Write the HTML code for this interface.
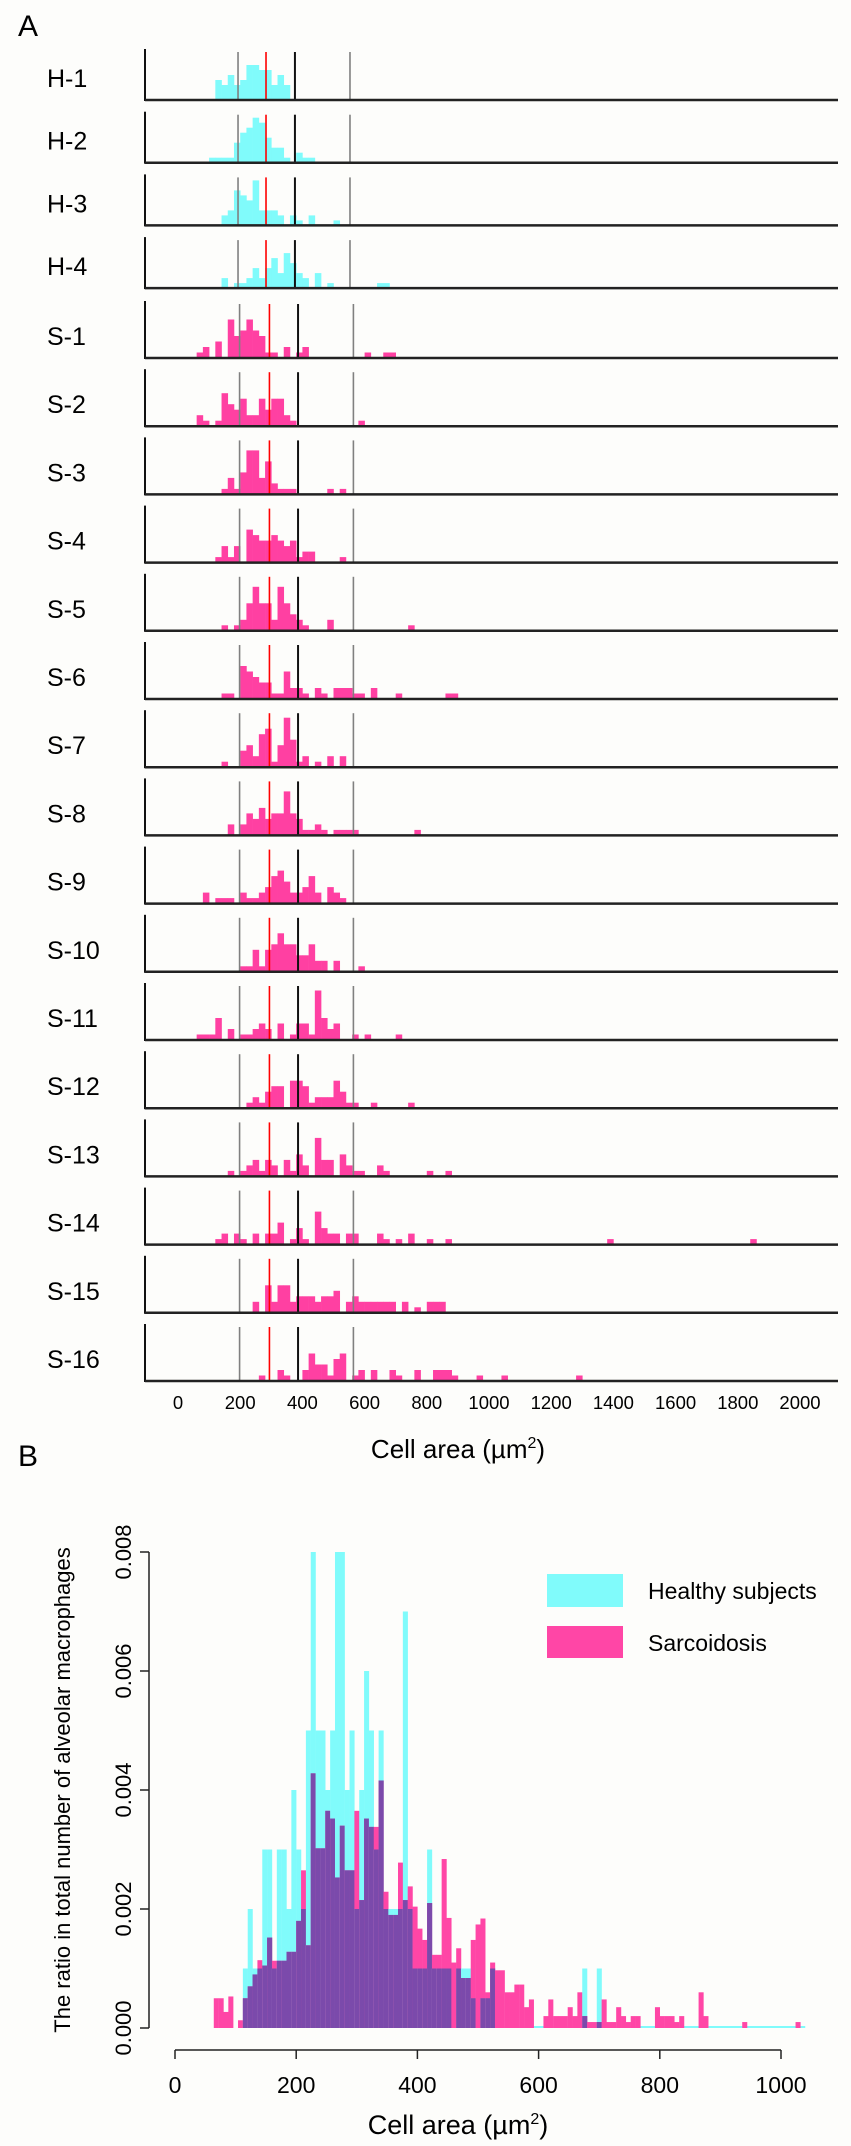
<!DOCTYPE html>
<html><head><meta charset="utf-8"><style>
html,body{margin:0;padding:0;background:#fdfdfb;}
svg{display:block;font-family:"Liberation Sans",sans-serif;}
</style></head><body>
<svg id="chart" width="851" height="2146" viewBox="0 0 851 2146" xmlns="http://www.w3.org/2000/svg">
<rect width="851" height="2146" fill="#fdfdfb"/>
<text x="18" y="36" font-size="30">A</text>
<text x="18" y="1466" font-size="30">B</text>
<g id="panelA"></g>
<g id="panelB"></g>
</svg>
<script>
// ---------- Panel A data ----------
const rowLabels = ["H-1","H-2","H-3","H-4","S-1","S-2","S-3","S-4","S-5","S-6","S-7","S-8","S-9","S-10","S-11","S-12","S-13","S-14","S-15","S-16"];
const rowStarts = [6,5,7,7,3,3,7,6,7,7,7,8,4,10,3,11,8,6,12,13];
const rowCounts = [
 [4,3,5,3,4,7,7,6,6,3,5,3],
 [1,1,1,1,4,6,7,9,8,5,3,3,1,0,2,1,1],
 [2,3,7,6,5,9,3,3,3,2,0,2,1,0,2,0,0,0,1],
 [2,0,1,1,2,4,2,4,6,3,7,5,3,2,0,3,0,1,0,0,0,0,0,0,0,1,1],
 [1,2,0,3,0,7,4,5,7,5,4,1,1,0,2,0,1,2,0,0,0,0,0,0,0,0,0,1,0,0,1,1],
 [2,1,0,1,6,4,3,5,2,2,5,3,5,5,2,1,0,0,0,0,0,0,0,0,0,0,1],
 [1,3,1,4,8,8,3,6,2,1,1,1,0,0,0,0,0,1,0,1],
 [1,3,1,3,0,6,5,4,4,5,4,3,4,1,2,2,0,0,0,0,1],
 [1,0,1,2,5,8,5,5,2,8,5,3,2,1,0,0,0,2,0,0,0,0,0,0,0,0,0,0,0,0,1],
 [1,1,0,6,5,4,3,3,1,1,5,2,2,1,0,2,1,0,2,2,2,1,1,0,2,0,0,0,1,0,0,0,0,0,0,0,1,1],
 [1,0,0,3,4,2,6,7,1,4,9,5,1,2,0,1,0,2,0,2],
 [2,0,2,4,3,5,3,4,4,8,4,3,1,1,2,1,0,1,1,1,1,0,0,0,0,0,0,0,0,0,1],
 [2,0,1,1,1,0,2,1,1,2,3,5,6,4,2,2,3,5,2,0,3,2,1],
 [1,1,4,1,4,5,7,5,5,3,3,5,2,2,0,2,0,0,0,1],
 [1,1,1,4,0,2,0,1,1,2,3,2,0,3,0,1,3,3,1,9,4,2,3,0,0,1,0,1,0,0,0,0,1],
 [1,2,1,3,4,4,0,5,5,4,1,2,2,2,5,3,1,1,0,0,1,0,0,0,0,0,1],
 [1,0,1,2,3,1,3,2,0,3,1,4,2,0,7,3,3,0,4,2,1,1,0,0,2,1,0,0,0,0,0,0,1,0,0,1],
 [1,2,0,2,1,0,2,0,2,2,4,0,1,3,1,0,6,3,2,2,0,2,2,0,0,0,2,1,0,1,0,2,0,0,1,0,0,1,0,0,0,0,0,0,0,0,0,0,0,0,0,0,0,0,0,0,0,0,0,0,0,0,0,1,0,0,0,0,0,0,0,0,0,0,0,0,0,0,0,0,0,0,0,0,0,0,1],
 [2,0,5,2,5,5,2,3,3,3,2,3,3,4,0,2,3,2,2,2,2,2,2,0,2,0,1,0,2,2,2],
 [1,0,0,2,1,0,0,2,5,3,3,1,4,5,0,1,2,0,2,0,0,2,1,0,0,2,0,0,2,2,2,1,0,0,0,1,0,0,0,1,0,0,0,0,0,0,0,0,0,0,0,1]
];
const healthyLines = [193,283,376,553];
const sarcLines = [198,294,386,564];
const lineKinds = ["q1","median","q3","p95"];
const aTicks = [0,200,400,600,800,1000,1200,1400,1600,1800,2000];
const binWidthA = 20;

// ---------- Panel B data ----------
const bStart = 64;
const bWidth = 8;
const sarcVals = [0.5,0.5,0.27,0.53,0,0.13,0.5,0.7,0.9,1.14,1.05,1.52,1.13,1.13,1.13,1.28,1.28,1.8,2.65,1.39,4.28,3.02,3.02,3.65,3.52,2.53,3.4,2.65,2.65,3.65,2.15,3.52,3.38,3.38,4.16,2.29,1.9,1.9,2.78,2.15,2.38,2.04,1.67,1.48,2.1,1.23,1.23,2.84,1.85,1.1,1.34,0.84,0.84,1.48,1.74,1.84,0.6,1.1,0.97,0.97,0.6,0.6,0.73,0.73,0.35,0.48,0,0,0.2,0.48,0.2,0.2,0.2,0.35,0.2,0.6,0.2,0.1,0.1,0.1,0.48,0.1,0.1,0.35,0.2,0.1,0.2,0.2,0,0,0,0.35,0.2,0.2,0.2,0.1,0.2,0,0,0,0.6,0.2,0,0,0,0,0,0,0,0.1,0,0,0,0,0,0,0,0,0,0,0.1,0];
const healthyVals = [0,0,0,0,0,0,1,2,1,1,3,3,1,3,3,2,4,3,2,5,8,5,5,4,5,8,8,4,5,2,4,6,5,3,5,2,2,2,2,7,2,1,1,1,3,1,1,1,1,0,1,1,1,0.5,0,0.5,0.5,1,0,0,0,0,0,0,0,0,0,0,0,0,0,0,0,0,0,0,1,0,0,1,0,0,0,0,0,0,0,0,0,0,0,0,0,0,0,0,0,0,0,0,0,0,0,0,0,0,0,0,0,0,0,0,0,0,0,0,0,0,0,0,0,0];
const bXTicks = [0,200,400,600,800,1000];
const bYTicks = [0,0.002,0.004,0.006,0.008];

const NS = "http://www.w3.org/2000/svg";
function mk(tag, attrs, parent){ const e=document.createElementNS(NS,tag); for(const k in attrs) e.setAttribute(k,attrs[k]); parent.appendChild(e); return e; }

// ---------- Panel A ----------
const A = document.getElementById('panelA');
const ax = v => 178 + v*0.311;
const axLeft = 145, axRight = 838;
rowLabels.forEach((lab, i) => {
  const healthy = i < 4;
  const base = healthy ? 100 + i*62.7 : 358 + (i-4)*68.2;
  const h = healthy ? 51 : 57;
  const pxPer = healthy ? 5 : 5.5;
  const color = healthy ? "#80fbfb" : "#ff40a2";
  const g = mk('g',{},A);
  
  
  const t = mk('text',{x:47,y:base-13,'font-size':25},g);
  t.textContent = lab;
  
  
  rowCounts[i].forEach((c, k) => {
    if(!c) return;
    const b = rowStarts[i] + k;
    const x0 = ax(b*binWidthA), x1 = ax((b+1)*binWidthA);
    const r = mk('rect',{x:x0,y:base-c*pxPer,width:x1-x0+0.3,height:c*pxPer,fill:color},g);
    
    
  });
  const lines = healthy ? healthyLines : sarcLines;
  lines.forEach((v, j) => {
    const kind = lineKinds[j];
    const col = kind==="median" ? "#ff0000" : (kind==="q3" ? "#111" : "#808080");
    const l = mk('line',{x1:ax(v),x2:ax(v),y1:base-h+3,y2:base,stroke:col,'stroke-width':kind==="q3"?2:1.6},g);
    
    
  });
  const ya = mk('line',{x1:axLeft,x2:axLeft,y1:base-h,y2:base+1,stroke:"#111",'stroke-width':2},g);
  
  
  const xa = mk('line',{x1:axLeft,x2:axRight,y1:base,y2:base,stroke:"#222",'stroke-width':2.5},g);
  
  
});
aTicks.forEach(v => {
  const t = mk('text',{x:ax(v),y:1409,'font-size':18.5,'text-anchor':'middle'},A);
  t.textContent = v;
  
  
});
const at = mk('text',{x:458,y:1458,'font-size':26,'text-anchor':'middle'},A);
at.innerHTML = 'Cell area (µm<tspan font-size="16" dy="-10">2</tspan><tspan dy="10">)</tspan>';



// ---------- Panel B ----------
const B = document.getElementById('panelB');
const bx = v => 175 + v*0.606;
const by = v => 2028 - v*59500;
const unit = 0.001;
const floor = mk('line',{x1:bx(112),x2:bx(1040),y1:2027,y2:2027,stroke:"#80fbfb",'stroke-width':2},B);


for(let i=0;i<sarcVals.length;i++){
  const x0 = bx(bStart+i*bWidth), x1 = bx(bStart+(i+1)*bWidth);
  const hv = healthyVals[i]*unit, sv = sarcVals[i]*unit;
  if(hv>0){
    const r = mk('rect',{x:x0,y:by(hv),width:x1-x0+0.2,height:2028-by(hv),fill:"#80fbfb"},B);
    
    
  }
  if(sv>0){
    const r = mk('rect',{x:x0,y:by(sv),width:x1-x0+0.2,height:2028-by(sv),fill:"#ff46a6"},B);
    
    
  }
  const m = Math.min(hv,sv);
  if(m>0){
    const r = mk('rect',{x:x0,y:by(m),width:x1-x0+0.2,height:2028-by(m),fill:"#7b4aab"},B);
    
    
  }
}
// y axis
const yax = mk('line',{x1:149,x2:149,y1:by(0.008),y2:by(0),stroke:"#222",'stroke-width':1.5},B);


bYTicks.forEach(v => {
  const tk = mk('line',{x1:140,x2:149,y1:by(v),y2:by(v),stroke:"#222",'stroke-width':1.5},B);
  
  
  const t = mk('text',{x:0,y:0,'font-size':22,'text-anchor':'middle',transform:`translate(131,${by(v)}) rotate(-90)`},B);
  t.textContent = v.toFixed(3);
  
  
});
const yt = mk('text',{x:0,y:0,'font-size':22,'text-anchor':'middle',transform:'translate(70,1790) rotate(-90)'},B);
yt.textContent = 'The ratio in total number of alveolar macrophages';


// x axis
const xax = mk('line',{x1:bx(0),x2:bx(1000),y1:2050,y2:2050,stroke:"#222",'stroke-width':1.5},B);


bXTicks.forEach(v => {
  const tk = mk('line',{x1:bx(v),x2:bx(v),y1:2050,y2:2059,stroke:"#222",'stroke-width':1.5},B);
  
  
  const t = mk('text',{x:bx(v),y:2093,'font-size':23,'text-anchor':'middle'},B);
  t.textContent = v;
  
  
});
const bt = mk('text',{x:458,y:2134,'font-size':27,'text-anchor':'middle'},B);
bt.innerHTML = 'Cell area (µm<tspan font-size="16" dy="-10">2</tspan><tspan dy="10">)</tspan>';


// legend
const lg = mk('g',{},B);


const l1 = mk('rect',{x:547,y:1574,width:76,height:33,fill:"#80fbfb"},lg);


const l1t = mk('text',{x:648,y:1599,'font-size':23},lg);
l1t.textContent = 'Healthy subjects';


const l2 = mk('rect',{x:547,y:1626,width:76,height:32,fill:"#ff46a6"},lg);


const l2t = mk('text',{x:648,y:1651,'font-size':23},lg);
l2t.textContent = 'Sarcoidosis';


</script>
</body></html>
